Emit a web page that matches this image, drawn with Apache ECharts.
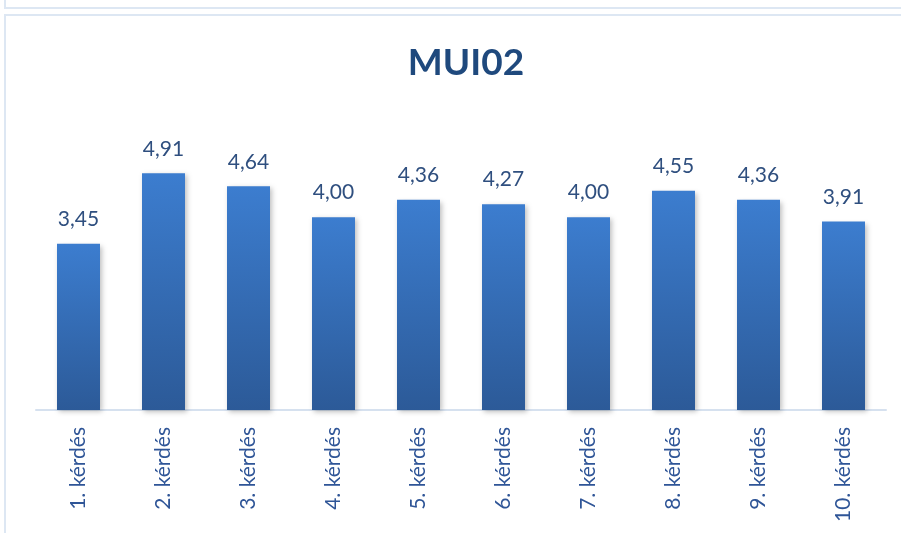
<!DOCTYPE html>
<html>
<head>
<meta charset="utf-8">
<script src="https://cdn.jsdelivr.net/npm/echarts@6/dist/echarts.min.js"></script>
<style>
html,body{margin:0;padding:0;background:#fff;}
#frameTop{position:absolute;left:4px;top:-10px;width:920px;height:15px;border:2px solid #dde7f3;}
#chart{position:absolute;left:0;top:0;width:901px;height:533px;}
#frame{position:absolute;left:4px;top:14px;width:920px;height:540px;border:2px solid #dde7f3;}
</style>
</head>
<body>
<div id="frameTop"></div>
<div id="frame"></div>
<div id="chart"></div>
<script>
var categories = ['1. kérdés','2. kérdés','3. kérdés','4. kérdés','5. kérdés','6. kérdés','7. kérdés','8. kérdés','9. kérdés','10. kérdés'];
var values = [3.45, 4.91, 4.64, 4.00, 4.36, 4.27, 4.00, 4.55, 4.36, 3.91];
var chartTitle = 'MUI02';

var myChart = echarts.init(document.getElementById('chart'));
myChart.setOption({
    animation: false,
    title: {
        text: chartTitle,
        left: 461,
        top: 40,
        textAlign: 'center',
        textStyle: {
            fontFamily: 'Lato',
            fontSize: 37,
            fontWeight: 'bold',
            color: '#1f497d'
        }
    },
    grid: {
        left: 36,
        right: 15,
        top: 169,
        bottom: 123
    },
    xAxis: {
        type: 'category',
        data: categories,
        axisLine: { lineStyle: { color: '#d6e1ef', width: 2 } },
        axisTick: { show: false },
        axisLabel: {
            rotate: 90,
            margin: 17,
            fontFamily: 'Lato',
            fontSize: 21,
            color: '#2f5597'
        }
    },
    yAxis: {
        type: 'value',
        min: 0,
        max: 5,
        show: false,
        splitLine: { show: false }
    },
    series: [{
        type: 'bar',
        data: values,
        barWidth: 43,
        itemStyle: {
            color: new echarts.graphic.LinearGradient(0, 0, 0, 1, [
                { offset: 0, color: '#3c7dcf' },
                { offset: 1, color: '#2c5a98' }
            ]),
            shadowColor: 'rgba(0,0,0,0.25)',
            shadowBlur: 5,
            shadowOffsetX: 2,
            shadowOffsetY: 2
        },
        label: {
            show: true,
            position: 'top',
            distance: 14,
            fontFamily: 'Lato',
            fontSize: 21,
            color: '#2f4f7f',
            formatter: function (p) {
                return p.value.toFixed(2).replace('.', ',');
            }
        }
    }]
});
</script>
</body>
</html>
